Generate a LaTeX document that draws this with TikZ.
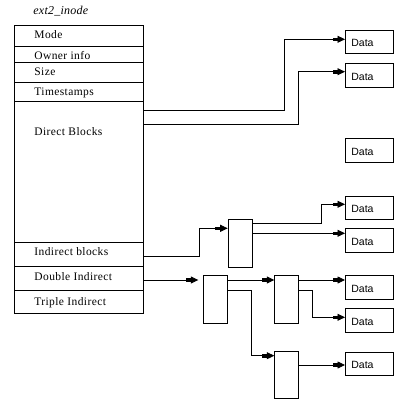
\documentclass[tikz,border=0pt]{standalone}
\usepackage{fontspec}
\usetikzlibrary{arrows.meta}
\newfontfamily\inodefont[LetterSpace=3.5]{Liberation Serif}
\newfontfamily\titlefont[LetterSpace=2]{Liberation Serif}
\newfontfamily\datafont{Liberation Sans}
\begin{document}
\begin{tikzpicture}[x=1pt,y=-1pt,
  line width=0.8pt,
  field/.style={draw, minimum width=129pt, inner sep=0pt, anchor=north west},
  flabel/.style={anchor=base west, inner sep=0pt, font=\inodefont\fontsize{11.5}{13}\selectfont},
  datab/.style={draw, minimum width=47.5pt, minimum height=23.5pt, inner sep=0pt, anchor=north west},
  dlabel/.style={anchor=base west, inner sep=0pt, font=\datafont\fontsize{10.5}{12}\selectfont},
  blk/.style={draw, minimum width=24pt, minimum height=47.5pt, inner sep=0pt, anchor=north west},
  arr/.style={-{Rectangle[length=5pt,width=3.5pt,sep=0pt]Triangle[length=7.5pt,width=7pt]}},
]
\useasboundingbox (0,0) rectangle (405,409);
% title
\node[anchor=base west, inner sep=0pt, font=\titlefont\itshape\fontsize{12}{14}\selectfont] (title) at (33,15) {ext2\_inode};
% inode fields
\node[field, minimum height=21.5pt] (mode) at (14,25) {};
\node[field, minimum height=16pt] (owner) at (14,46.5) {};
\node[field, minimum height=19.2pt] (size) at (14,62.5) {};
\node[field, minimum height=19.3pt] (times) at (14,81.7) {};
\node[field, minimum height=141.3pt] (direct) at (14,101) {};
\node[field, minimum height=24pt] (indirect) at (14,242.3) {};
\node[field, minimum height=24pt] (double) at (14,266.3) {};
\node[field, minimum height=22.7pt] (triple) at (14,290.3) {};
\node[flabel] (lmode) at (34,39) {Mode};
\node[flabel] (lowner) at (34,60) {Owner info};
\node[flabel] (lsize) at (34,76) {Size};
\node[flabel] (ltimes) at (34,95.5) {Timestamps};
\node[flabel] (ldirect) at (34,135.5) {Direct Blocks};
\node[flabel] (lindirect) at (34,255) {Indirect blocks};
\node[flabel] (ldouble) at (34,280.5) {Double Indirect};
\node[flabel] (ltriple) at (34,305.5) {Triple Indirect};
% data boxes
\foreach \n/\y in {1/30,2/63.3,3/138.3,4/195.7,5/228.3,6/275.3,7/308.3,8/351.7}{
  \node[datab] (data\n) at (345,\y) {};
  \node[dlabel] (dl\n) at (351,\y+17) {Data};
}
% indirect blocks
\node[blk] (ib) at (227.7,219.3) {};
\node[blk, minimum height=48pt] (db1) at (203.3,275.3) {};
\node[blk, minimum height=48pt] (db2) at (274.3,275.3) {};
\node[blk, minimum height=47pt] (db3) at (274.3,351.3) {};
% connectors
\draw[arr] (direct.east |- 0,110) -- (284,110) |- (data1.west |- 0,39.3);
\draw[arr] (direct.east |- 0,124.3) -- (298.3,124.3) |- (data2.west |- 0,71.7);
\draw[arr] (indirect.east |- 0,256) -- (199.3,256) |- (ib.west |- 0,228.3);
\draw[arr] (ib.east |- 0,223.3) -- (321.7,223.3) |- (data4.west |- 0,204.3);
\draw[arr] (ib.east |- 0,233.3) -- (data5.west |- 0,233.3);
\draw[arr, shorten >=5pt] (double.east |- 0,280) -- (db1.west |- 0,280);
\draw[arr] (db1.east |- 0,280) -- (db2.west |- 0,280);
\draw[arr] (db1.east |- 0,290) -- (251,290) |- (db3.west |- 0,355.7);
\draw[arr] (db2.east |- 0,280) -- (data6.west |- 0,280);
\draw[arr] (db2.east |- 0,290) -- (312.3,290) |- (data7.west |- 0,317.3);
\draw[arr] (db3.east |- 0,365) -- (data8.west |- 0,365);
\end{tikzpicture}
\end{document}
